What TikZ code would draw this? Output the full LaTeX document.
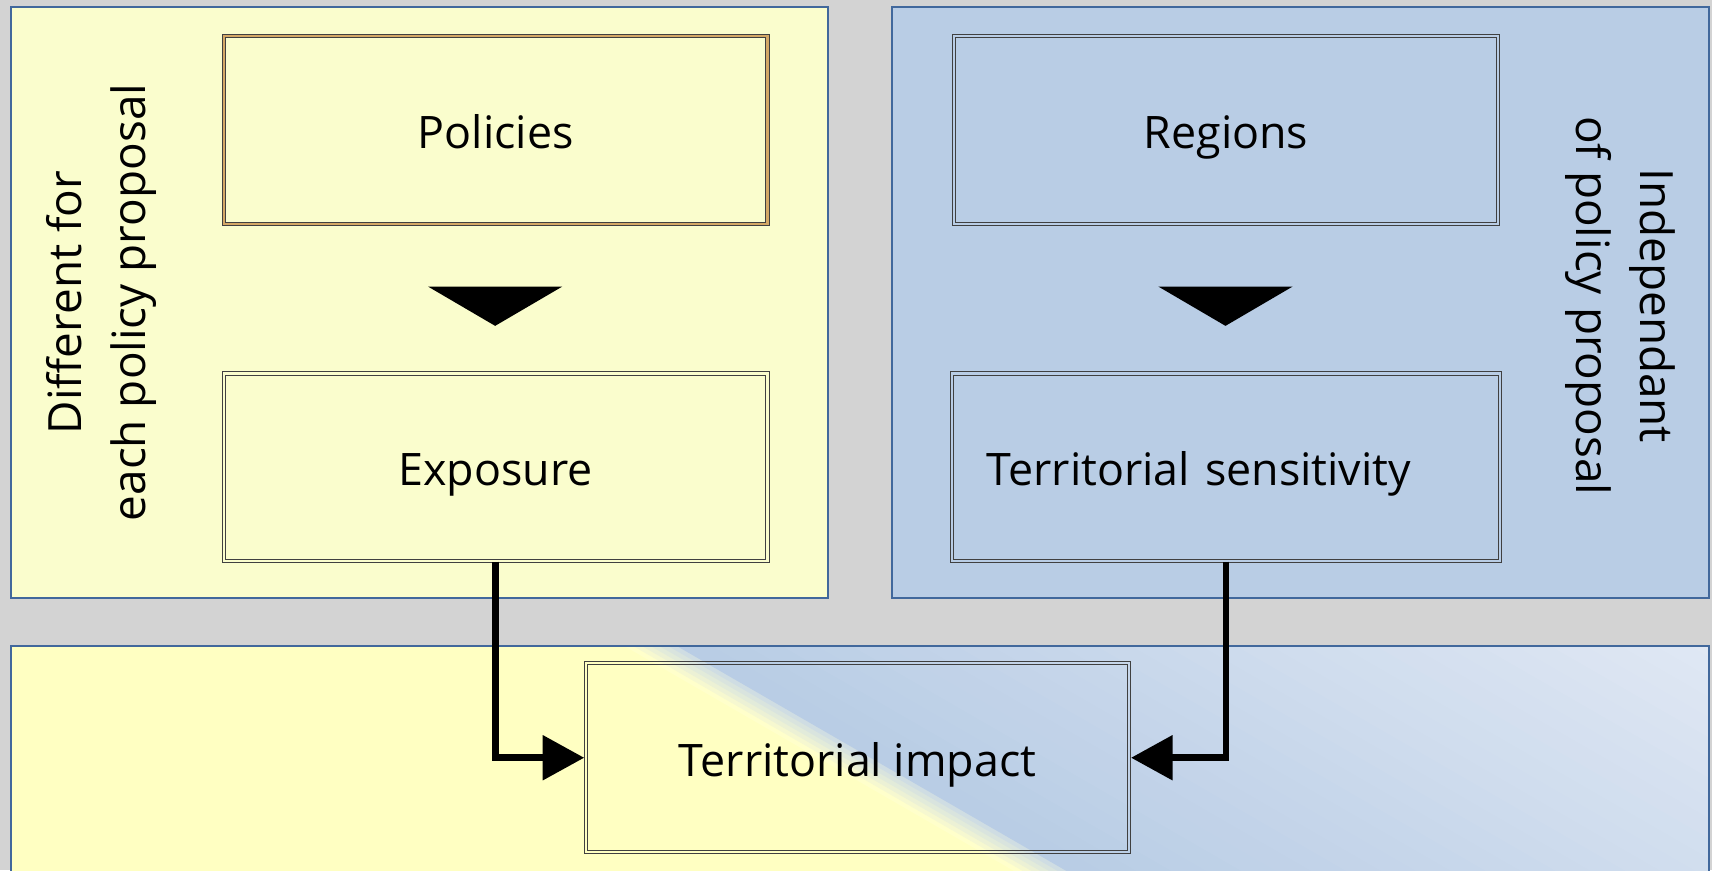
\documentclass[tikz,border=0pt]{standalone}
\usepackage{fontspec}
\setmainfont{Open Sans}
\usepackage{tikz}
\usetikzlibrary{positioning, arrows.meta, calc}

\definecolor{backgray}{HTML}{D3D3D3}
\definecolor{paleyellow}{HTML}{FAFDCD}
\definecolor{brightyellow}{HTML}{FFFFC2}
\definecolor{paleblue}{HTML}{B9CDE5}
\definecolor{lightblue}{HTML}{E0E8F4}
\definecolor{frameblue}{HTML}{41689C}
\definecolor{policytan}{HTML}{D4A866}

\tikzset{
  panel/.style={draw=frameblue, line width=1.8pt},
  stepbox/.style={draw=black!75, line width=0.9pt, double=#1, double distance=2.4pt,
    fill=#1, minimum width=498pt, minimum height=172pt, inner sep=0pt,
    text height=34pt, text depth=0pt, font=\fontsize{41}{49}\selectfont},
  sidelabel/.style={font=\fontsize{42}{58}\selectfont, align=center},
  flow/.style={line width=6pt, -{Triangle[length=38pt,width=40pt]}},
  downtip/.style={fill=black}
}

\begin{document}
\begin{tikzpicture}[x=1pt, y=-1pt]
  \useasboundingbox (0,0) rectangle (1568,797);
  \fill[backgray] (0,0) rectangle (1568,797);

  % panels
  \filldraw[panel, fill=paleyellow] (10,6) rectangle (758,548);
  \filldraw[panel, fill=paleblue] (817,6) rectangle (1565,548);
  \begin{scope}
    \clip (10,592) rectangle (1565,800);
    \fill[brightyellow] (10,592) rectangle (1565,800);
    \begin{scope}[shift={(778,694.5)}, rotate=60]
      % yellow to blue band
      \foreach \k in {0,...,5} {
        \pgfmathtruncatemacro\mixpct{100-16*\k}
        \fill[brightyellow!\mixpct!paleblue!85!white] ({-14+4*\k},-1200) rectangle ({-14+4*(\k+1)+0.5},1200);
      }
      % blue getting lighter
      \foreach \k in {0,...,29} {
        \pgfmathtruncatemacro\mixpct{100*\k/29}
        \fill[lightblue!\mixpct!paleblue] ({10+16*\k},-1200) rectangle ({10+16*(\k+1)+0.5},1200);
      }
    \end{scope}
  \end{scope}
  \draw[panel] (10,800) -- (10,592) -- (1565,592) -- (1565,800);

  % boxes
  \node[stepbox=paleyellow, double=policytan] (pol) at (454,119) {Policies};
  \node[stepbox=paleyellow, below=136pt of pol] (expo) {Exposure};
  \node[stepbox=paleblue, right=170pt of pol] (reg) {Regions};
  \node[stepbox=paleblue, below=136pt of reg, text width=438pt, inner xsep=32pt, align=left] (sens) {Territorial sensitivity};
  \node[draw=black!75, line width=0.9pt, minimum width=500pt, minimum height=176pt,
    text height=34pt, text depth=0pt, font=\fontsize{41}{49}\selectfont] (impact) at (785.5,694) {Territorial impact};
  \draw[black!75, line width=0.9pt] ([shift={(3.3,3.3)}]impact.north west) rectangle ([shift={(-3.3,-3.3)}]impact.south east);

  % side labels
  \node[sidelabel, rotate=90] (difflabel) at (93,277) {Different for\\each policy proposal};
  \node[sidelabel, rotate=-90] (indeplabel) at (1484,280) {Independant\\of policy proposal};

  % arrows
  \fill[downtip] ([shift={(-62,57)}]pol.south) -- ++(123,0) -- ++(-61.5,36) -- cycle;
  \fill[downtip] ([shift={(-62,57)}]reg.south) -- ++(123,0) -- ++(-61.5,36) -- cycle;
  \draw[flow] (expo.south) |- (impact.west);
  \draw[flow] (sens.south) |- (impact.east);
\end{tikzpicture}
\end{document}
